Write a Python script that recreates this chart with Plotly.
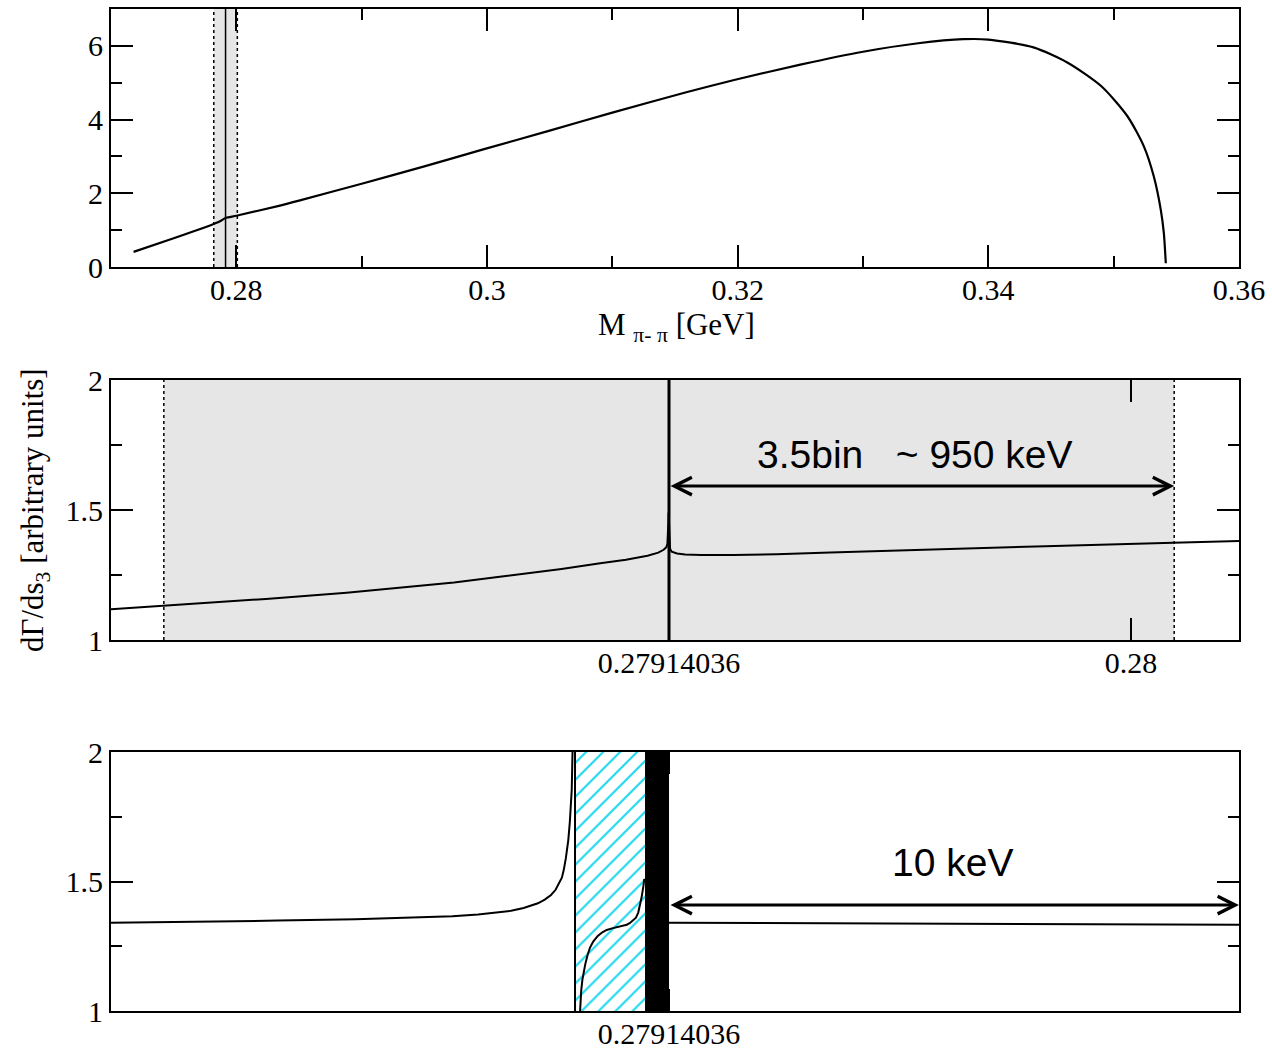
import numpy as np
import plotly.graph_objects as go

# ---------------- data ----------------
M0 = 0.27914036  # threshold (GeV)

# top panel: full spectrum
top_x = [0.2718, 0.2750, 0.2780, 0.2787, 0.27914, 0.2800, 0.2834, 0.2850, 0.2900, 0.2950,
         0.2997, 0.3050, 0.3100, 0.3159, 0.3198, 0.3250, 0.3300, 0.3344, 0.3380, 0.3400,
         0.3436, 0.3463, 0.3490, 0.3511, 0.3524, 0.3532, 0.35376, 0.3540, 0.35416]
top_y = [0.41, 0.78, 1.14, 1.24, 1.33, 1.39, 1.66, 1.80, 2.26, 2.73,
         3.19, 3.70, 4.19, 4.74, 5.08, 5.49, 5.84, 6.07, 6.18, 6.17,
         5.96, 5.55, 4.91, 4.09, 3.28, 2.46, 1.55, 0.93, 0.10]
top_band = [0.2782, 0.28008]
top_line = 0.27914

# middle panel: offsets from M0 in keV
mid_dk = [-1038.3, -900, -750, -600, -500, -400, -300, -200, -128, -80, -40, -20, -10, -5, -3, -1.9, -1.2, -0.8,
          0.8, 2, 5, 15, 30, 60, 120, 200, 300, 500, 700, 938, 1060.6]
mid_y = [1.118, 1.137, 1.158, 1.182, 1.201, 1.221, 1.247, 1.273, 1.295, 1.309, 1.324, 1.336, 1.347, 1.357, 1.37, 1.40, 1.45, 1.49,
         1.37, 1.35, 1.34, 1.333, 1.329, 1.327, 1.327, 1.330, 1.337, 1.350, 1.361, 1.374, 1.381]
mid_band_kev = [-940.0, 940.0]
mid_range_kev = [-1038.3, 1060.6]
mid_arrow_kev = [0.0, 940.0]
mid_arrow_y = 1.592
mid_text = "3.5bin\u00a0\u00a0\u00a0~ 950 keV"
mid_text_pos = (457.7, 1.712)

# bottom panel: offsets from M0 in keV
bl_dk = [-9.79, -8.0, -6.86, -5.5, -4.53, -3.8, -3.35, -3.0, -2.77, -2.55, -2.40, -2.30, -2.18, -2.07,
         -1.99, -1.925, -1.88, -1.847, -1.81, -1.767, -1.74, -1.707, -1.695, -1.688]
bl_y = [1.341, 1.345, 1.349, 1.354, 1.360, 1.366, 1.373, 1.380, 1.387, 1.398, 1.408, 1.416, 1.430, 1.448,
        1.468, 1.493, 1.515, 1.544, 1.59, 1.66, 1.73, 1.853, 1.95, 2.05]
bi_dk = [-1.565, -1.555, -1.54, -1.52, -1.50, -1.47, -1.43, -1.386, -1.33, -1.25, -1.17, -1.093, -1.0,
         -0.9, -0.8, -0.742, -0.69, -0.63, -0.58, -0.54, -0.509, -0.48, -0.451, -0.433]
bi_y = [0.98, 1.03, 1.08, 1.12, 1.15, 1.18, 1.215, 1.245, 1.268, 1.29, 1.304, 1.313, 1.319,
        1.324, 1.329, 1.333, 1.339, 1.349, 1.36, 1.38, 1.41, 1.44, 1.48, 1.51]
br_dk = [0.0, 2.0, 5.0, 10.0]
br_y = [1.341, 1.339, 1.337, 1.333]
bot_vline_kev = -1.649
bot_hatch_kev = [-1.632, -0.421]
bot_black_kev = [-0.421, 0.0]
bot_range_kev = [-9.79, 10.0]
bot_arrow_kev = [0.0, 10.0]
bot_arrow_y = 1.409
bot_text = "10 keV"
bot_text_pos = (4.98, 1.575)

top_ticks = [0.28, 0.30, 0.32, 0.34, 0.36]
top_ticktext = ["0.28", "0.3", "0.32", "0.34", "0.36"]
top_minor = [0.27, 0.29, 0.31, 0.33, 0.35]
top_yticks = [0, 2, 4, 6]
top_yminor = [1, 3, 5, 7]
zoom_yticks = [1, 1.5, 2]
zoom_yminor = [1.25, 1.75]

def kev(v):
    return M0 + np.asarray(v, dtype=float) * 1e-6

# ---------------- figure ----------------
W, H = 1272, 1052
fig = go.Figure()

fig.add_trace(go.Scatter(x=top_x, y=top_y, mode="lines", line=dict(color="black", width=2.2),
                         line_shape="spline", line_smoothing=0.7,
                         showlegend=False, xaxis="x", yaxis="y"))
fig.add_trace(go.Scatter(x=kev(mid_dk), y=mid_y, mode="lines", line=dict(color="black", width=2),
                         showlegend=False, xaxis="x2", yaxis="y2"))
# hatched region
hx = kev([bot_hatch_kev[0], bot_hatch_kev[1], bot_hatch_kev[1], bot_hatch_kev[0], bot_hatch_kev[0]])
fig.add_trace(go.Scatter(x=hx, y=[1, 1, 2, 2, 1], mode="lines", fill="toself",
                         fillcolor="white", line=dict(width=0, color="rgba(0,0,0,0)"),
                         fillpattern=dict(shape="/", fgcolor="#22d8ee", bgcolor="white",
                                          size=12, solidity=0.18, fillmode="replace"),
                         showlegend=False, xaxis="x3", yaxis="y3", hoverinfo="skip"))
for xs, ys in [(bl_dk, bl_y), (bi_dk, bi_y), (br_dk, br_y)]:
    fig.add_trace(go.Scatter(x=kev(xs), y=ys, mode="lines", line=dict(color="black", width=2),
                             showlegend=False, xaxis="x3", yaxis="y3"))

xd = [111 / W, 1239 / W]
def ydom(top, bot):
    return [1 - bot / H, 1 - top / H]

tickfont = dict(family="Liberation Serif", size=30, color="black")
axcommon = dict(showline=True, linewidth=2, linecolor="black", mirror="allticks",
                ticks="inside", ticklen=22, tickwidth=2, tickcolor="black",
                showgrid=False, zeroline=False, tickfont=tickfont, automargin=False)
xextra = dict(ticklabelstandoff=-5)

fig.update_layout(
    width=W, height=H, margin=dict(l=0, r=0, t=0, b=0, pad=0),
    paper_bgcolor="white", plot_bgcolor="white",
    xaxis=dict(domain=xd, anchor="y", range=[0.27, 0.36], tickmode="array",
               tickvals=top_ticks, ticktext=top_ticktext,
               minor=dict(tickvals=top_minor, ticklen=11, tickwidth=2, ticks="inside", tickcolor="black"),
               **axcommon, **xextra),
    yaxis=dict(domain=ydom(9, 267), anchor="x", range=[0, 7], tickmode="array",
               tickvals=top_yticks,
               minor=dict(tickvals=top_yminor, ticklen=11, tickwidth=2, ticks="inside", tickcolor="black"),
               **axcommon),
    xaxis2=dict(domain=xd, anchor="y2", range=list(kev(mid_range_kev)), tickmode="array",
                tickvals=[M0, 0.28], ticktext=["0.27914036", "0.28"], **axcommon, **xextra),
    yaxis2=dict(domain=ydom(380, 640), anchor="x2", range=[1, 2], tickmode="array",
                tickvals=zoom_yticks, ticktext=["1", "1.5", "2"],
                minor=dict(tickvals=zoom_yminor, ticklen=11, tickwidth=2, ticks="inside", tickcolor="black"),
                **axcommon),
    xaxis3=dict(domain=xd, anchor="y3", range=list(kev(bot_range_kev)), tickmode="array",
                tickvals=[M0], ticktext=["0.27914036"], **axcommon, **xextra),
    yaxis3=dict(domain=ydom(752, 1011), anchor="x3", range=[1, 2], tickmode="array",
                tickvals=zoom_yticks, ticktext=["1", "1.5", "2"],
                minor=dict(tickvals=zoom_yminor, ticklen=11, tickwidth=2, ticks="inside", tickcolor="black"),
                **axcommon),
)

shapes = []
GRAY = "#e6e6e6"
# top band
shapes.append(dict(type="rect", xref="x", yref="y domain", x0=top_band[0], x1=top_band[1], y0=0, y1=1,
                   fillcolor=GRAY, line=dict(width=0), layer="below"))
for xv in top_band:
    shapes.append(dict(type="line", xref="x", yref="y domain", x0=xv, x1=xv, y0=0, y1=1,
                       line=dict(color="black", width=1.5, dash="dot")))
shapes.append(dict(type="line", xref="x", yref="y domain", x0=top_line, x1=top_line, y0=0, y1=1,
                   line=dict(color="black", width=1.5)))
# middle band
mb = kev(mid_band_kev)
shapes.append(dict(type="rect", xref="x2", yref="y2 domain", x0=mb[0], x1=mb[1], y0=0, y1=1,
                   fillcolor=GRAY, line=dict(width=0), layer="below"))
for xv in mb:
    shapes.append(dict(type="line", xref="x2", yref="y2 domain", x0=xv, x1=xv, y0=0, y1=1,
                       line=dict(color="black", width=1.5, dash="dot")))
shapes.append(dict(type="line", xref="x2", yref="y2 domain", x0=M0, x1=M0, y0=0, y1=1,
                   line=dict(color="black", width=3)))
# bottom
bv = float(kev(bot_vline_kev))
shapes.append(dict(type="line", xref="x3", yref="y3 domain", x0=bv, x1=bv, y0=0, y1=1,
                   line=dict(color="black", width=2)))
bb = kev(bot_black_kev)
shapes.append(dict(type="rect", xref="x3", yref="y3 domain", x0=bb[0], x1=bb[1], y0=0, y1=1,
                   fillcolor="black", line=dict(width=0), layer="above"))
fig.update_layout(shapes=shapes)

ann = []
# double arrows
for (xa, ya, xr, yr) in [(kev(mid_arrow_kev), mid_arrow_y, "x2", "y2"),
                         (kev(bot_arrow_kev), bot_arrow_y, "x3", "y3")]:
    ann.append(dict(x=float(xa[1]), y=ya, ax=float(xa[0]), ay=ya, xref=xr, yref=yr,
                    axref=xr, ayref=yr, showarrow=True, arrowhead=5, startarrowhead=5,
                    arrowside="end+start", arrowwidth=3, arrowsize=1.15, startarrowsize=1.15,
                    arrowcolor="black", text="", standoff=0, startstandoff=0))
textfont = dict(family="Liberation Sans", size=39, color="black")
ann.append(dict(x=float(kev(mid_text_pos[0])), y=mid_text_pos[1], xref="x2", yref="y2",
                text=mid_text, showarrow=False, font=textfont, xanchor="center", yanchor="middle"))
ann.append(dict(x=float(kev(bot_text_pos[0])), y=bot_text_pos[1], xref="x3", yref="y3",
                text=bot_text, showarrow=False, font=textfont, xanchor="center", yanchor="middle"))
# axis titles
ann.append(dict(x=676 / W, y=1 - 327 / H, xref="paper", yref="paper",
                text="M <sub>π- π</sub> [GeV]", showarrow=False,
                font=dict(family="Liberation Serif", size=31, color="black"),
                xanchor="center", yanchor="middle"))
ann.append(dict(x=35 / W, y=1 - 510 / H, xref="paper", yref="paper",
                text="dΓ/ds<sub>3</sub> [arbitrary units]", showarrow=False, textangle=-90,
                font=dict(family="Liberation Serif", size=31, color="black"),
                xanchor="center", yanchor="middle"))
fig.update_layout(annotations=ann)

fig.write_html("out.html", config={"displayModeBar": False},
               post_script="document.body.style.margin='0px';")
